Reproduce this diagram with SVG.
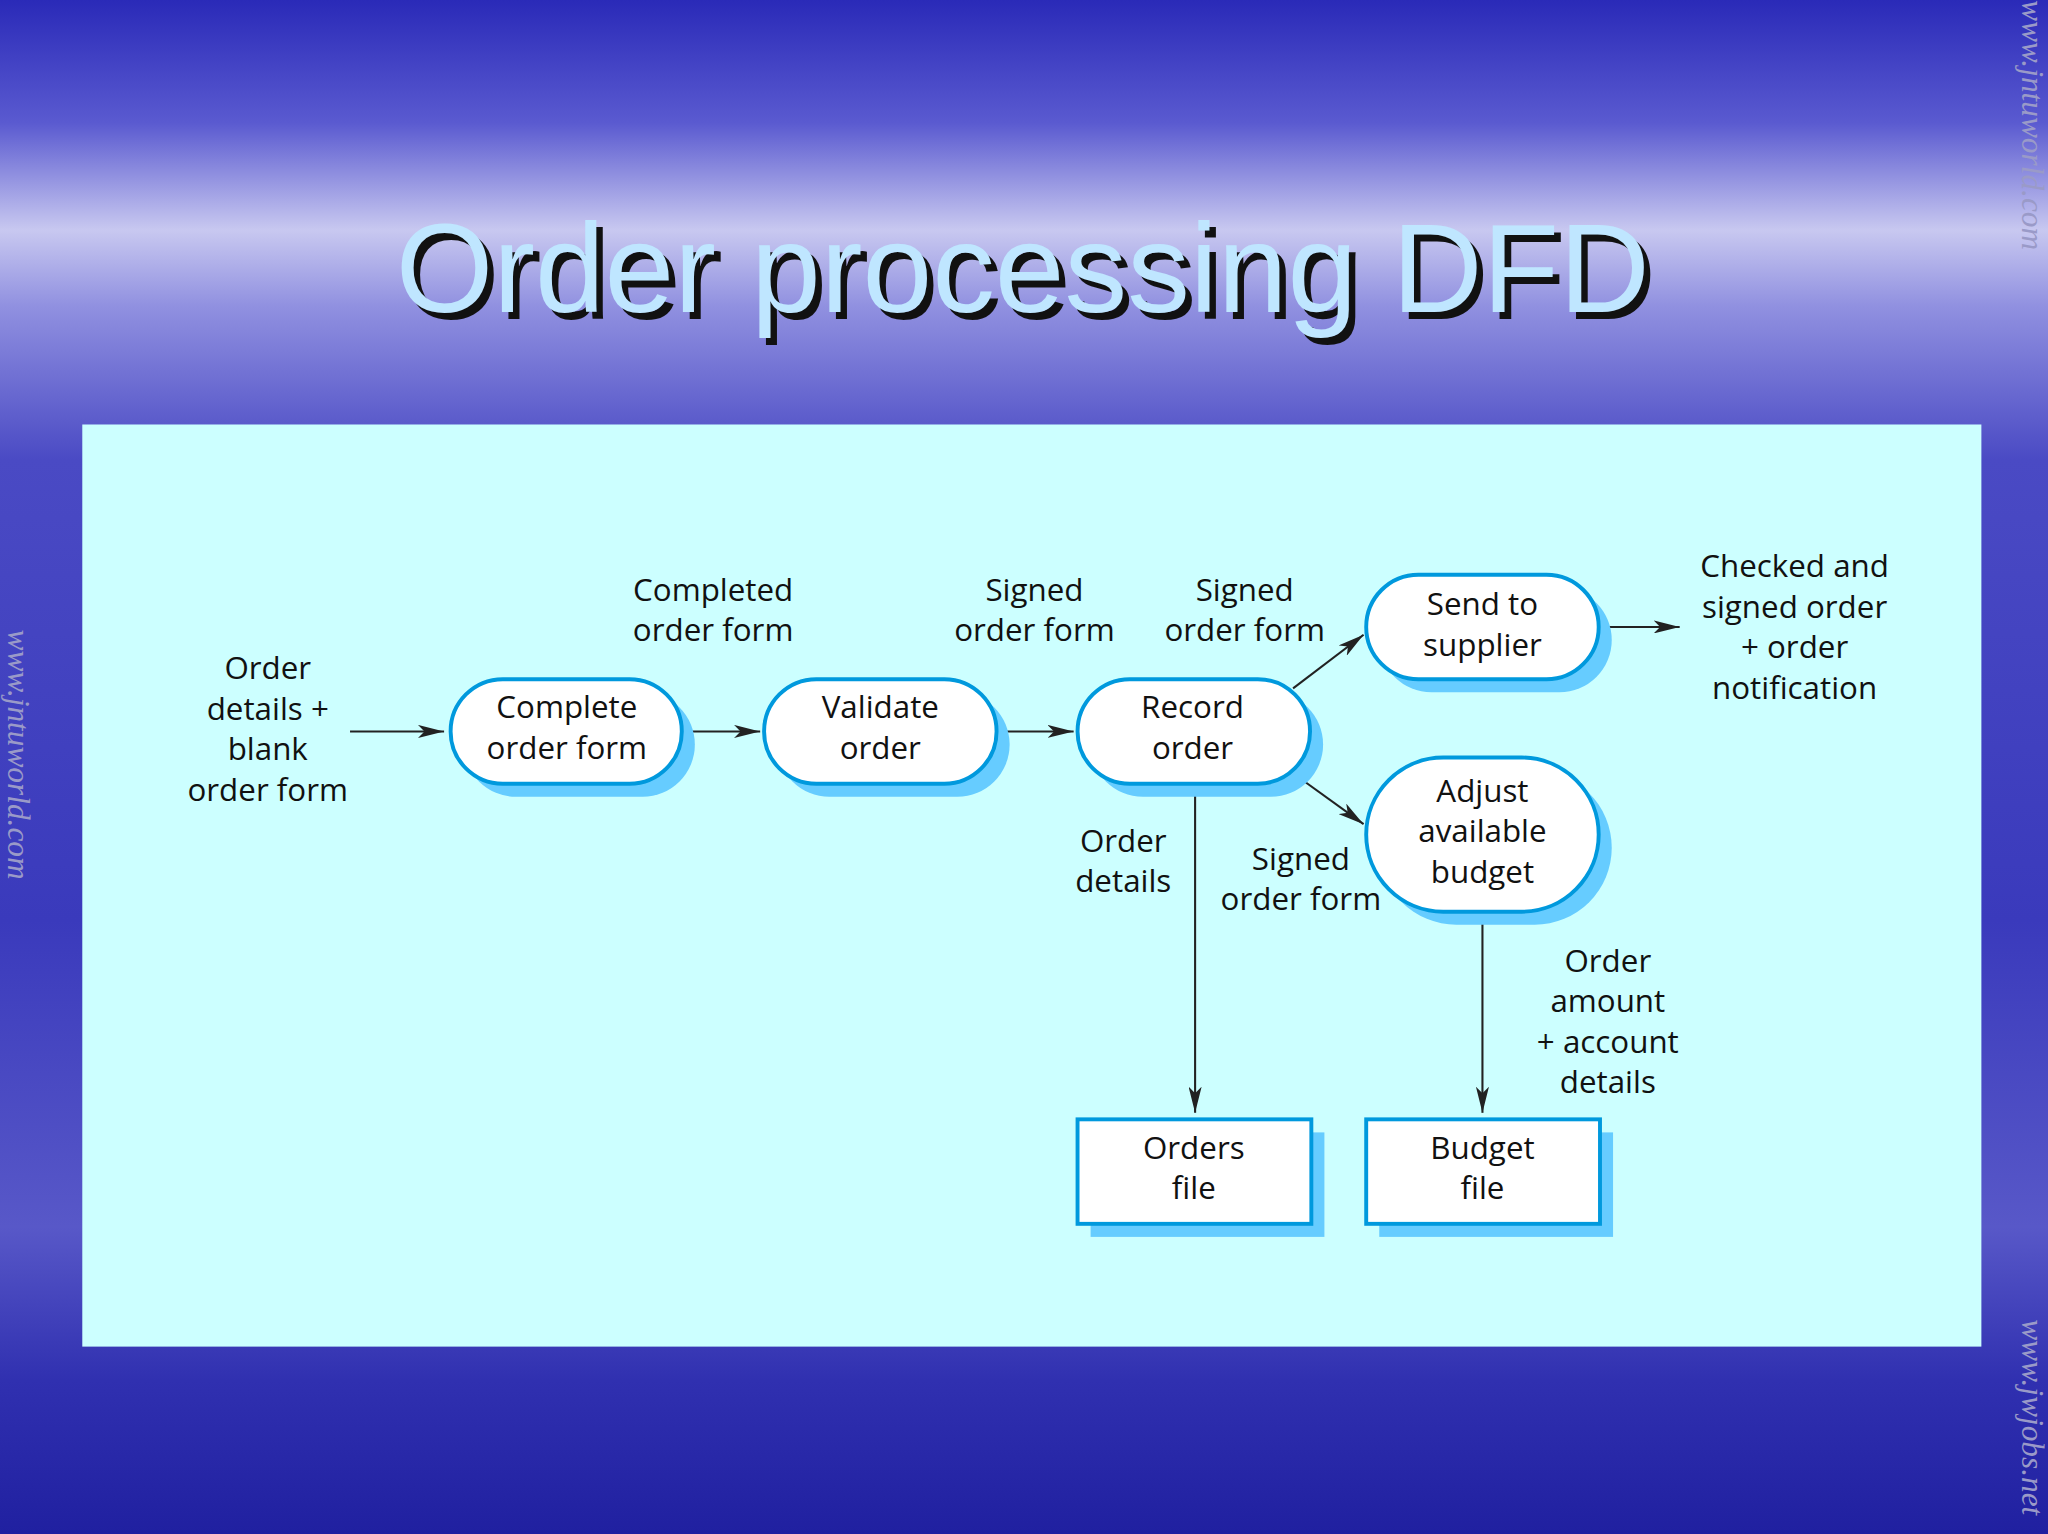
<svg xmlns="http://www.w3.org/2000/svg" width="2048" height="1534" viewBox="0 0 2048 1534">
<defs>
<linearGradient id="bg" x1="0" y1="0" x2="0" y2="1">
<stop offset="0" stop-color="#2a2ab8"/>
<stop offset="0.08" stop-color="#5a5ad0"/>
<stop offset="0.15" stop-color="#c8c8f0"/>
<stop offset="0.2" stop-color="#9090e0"/>
<stop offset="0.3" stop-color="#4a4ac4"/>
<stop offset="0.6" stop-color="#3a3abc"/>
<stop offset="0.8" stop-color="#5858c8"/>
<stop offset="0.9" stop-color="#3030b0"/>
<stop offset="1" stop-color="#2020a0"/>
</linearGradient>
<marker id="ah" viewBox="0 0 20 10" refX="20" refY="5" markerWidth="20" markerHeight="10" markerUnits="userSpaceOnUse" orient="auto">
<path d="M0,0 L20,5 L0,10 L5,5 Z" fill="#222"/>
</marker>
<style>
.sh{fill:#66ccff}
.nd{fill:#fff;stroke:#0099dd;stroke-width:3}
.t{font-family:"Open Sans","Liberation Sans",sans-serif;font-size:24px;fill:#111;text-anchor:middle}
.c{stroke:#222;stroke-width:1.6;fill:none;marker-end:url(#ah)}
.wm{font-family:"Liberation Serif",serif;font-style:italic;font-size:24px;fill:#9a9ac8}
</style>
</defs>
<rect width="2048" height="1534" fill="url(#bg)"/>
<g transform="scale(1.30612)">
<g id="title">
<text x="788" y="244" font-family="Liberation Sans,Arial,sans-serif" font-size="96" text-anchor="middle" fill="#111">Order processing DFD</text>
<text x="783" y="239" font-family="Liberation Sans,Arial,sans-serif" font-size="96" text-anchor="middle" fill="#bfe6ff">Order processing DFD</text>
</g>
<text class="wm" transform="translate(6,482) rotate(90)">www.jntuworld.com</text>
<text class="wm" transform="translate(1548,0) rotate(90)">www.jntuworld.com</text>
<text class="wm" transform="translate(1548,1010) rotate(90)">www.jwjobs.net</text>
<rect x="63" y="325" width="1454" height="706" fill="#ccffff"/>
<g id="connectors">
<line class="c" x1="268" y1="560" x2="340" y2="560"/>
<line class="c" x1="524" y1="560" x2="582" y2="560"/>
<line class="c" x1="764" y1="560" x2="822" y2="560"/>
<line class="c" x1="990" y1="527" x2="1044" y2="486"/>
<line class="c" x1="990" y1="592" x2="1044" y2="631"/>
<line class="c" x1="1226" y1="480" x2="1286" y2="480"/>
<line class="c" x1="915" y1="600" x2="915" y2="852"/>
<line class="c" x1="1135" y1="700" x2="1135" y2="852"/>
</g>
<g id="labels">
<text class="t"><tspan x="205" y="520">Order</tspan><tspan x="205" y="551">details +</tspan><tspan x="205" y="582">blank</tspan><tspan x="205" y="613">order form</tspan></text>
<text class="t"><tspan x="546" y="460">Completed</tspan><tspan x="546" y="491">order form</tspan></text>
<text class="t"><tspan x="792" y="460">Signed</tspan><tspan x="792" y="491">order form</tspan></text>
<text class="t"><tspan x="953" y="460">Signed</tspan><tspan x="953" y="491">order form</tspan></text>
<text class="t"><tspan x="1374" y="442">Checked and</tspan><tspan x="1374" y="473">signed order</tspan><tspan x="1374" y="504">+ order</tspan><tspan x="1374" y="535">notification</tspan></text>
<text class="t"><tspan x="860" y="652">Order</tspan><tspan x="860" y="683">details</tspan></text>
<text class="t"><tspan x="996" y="666">Signed</tspan><tspan x="996" y="697">order form</tspan></text>
<text class="t"><tspan x="1231" y="744">Order</tspan><tspan x="1231" y="775">amount</tspan><tspan x="1231" y="806">+ account</tspan><tspan x="1231" y="837">details</tspan></text>
</g>
<g id="complete"><rect class="sh" x="355" y="530" width="177" height="80" rx="40"/><rect class="nd" x="345" y="520" width="177" height="80" rx="40"/><text class="t"><tspan x="434" y="550">Complete</tspan><tspan x="434" y="581">order form</tspan></text></g>
<g id="validate"><rect class="sh" x="595" y="530" width="178" height="80" rx="40"/><rect class="nd" x="585" y="520" width="178" height="80" rx="40"/><text class="t"><tspan x="674" y="550">Validate</tspan><tspan x="674" y="581">order</tspan></text></g>
<g id="record"><rect class="sh" x="835" y="530" width="178" height="80" rx="40"/><rect class="nd" x="825" y="520" width="178" height="80" rx="40"/><text class="t"><tspan x="913" y="550">Record</tspan><tspan x="913" y="581">order</tspan></text></g>
<g id="send"><rect class="sh" x="1056" y="450" width="178" height="80" rx="40"/><rect class="nd" x="1046" y="440" width="178" height="80" rx="40"/><text class="t"><tspan x="1135" y="471">Send to</tspan><tspan x="1135" y="502">supplier</tspan></text></g>
<g id="adjust"><rect class="sh" x="1056" y="590" width="178" height="118" rx="59"/><rect class="nd" x="1046" y="580" width="178" height="118" rx="59"/><text class="t"><tspan x="1135" y="614">Adjust</tspan><tspan x="1135" y="645">available</tspan><tspan x="1135" y="676">budget</tspan></text></g>
<g id="orders"><rect class="sh" x="835" y="867" width="179" height="80"/><rect class="nd" x="825" y="857" width="179" height="80"/><text class="t"><tspan x="914" y="887">Orders</tspan><tspan x="914" y="918">file</tspan></text></g>
<g id="budget"><rect class="sh" x="1056" y="867" width="179" height="80"/><rect class="nd" x="1046" y="857" width="179" height="80"/><text class="t"><tspan x="1135" y="887">Budget</tspan><tspan x="1135" y="918">file</tspan></text></g>
</g>
</svg>
